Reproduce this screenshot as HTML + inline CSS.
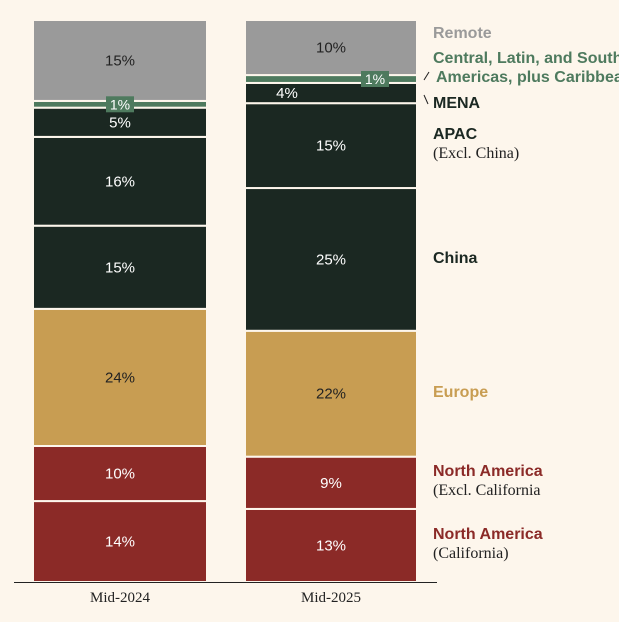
<!DOCTYPE html>
<html><head><meta charset="utf-8"><style>
body{margin:0;background:#fdf6ec;}
svg{display:block;font-family:"Liberation Sans",sans-serif;}
</style></head><body>
<svg id="chart" width="619" height="622"></svg>
<script>
const categories = ["Mid-2024","Mid-2025"];
const segments = ["North America (California)","North America (Excl. California)","Europe","China","APAC (Excl. China)","MENA","Central, Latin, and South Americas","Remote"];
const values2024 = [14.4,9.8,24.4,14.8,15.8,5.2,1.2,14.4];
const values2025 = [13,9.3,22.4,25.4,15.1,3.6,1.4,9.8];
const labels2024 = ["14%","10%","24%","15%","16%","5%","1%","15%"];
const labels2025 = ["13%","9%","22%","25%","15%","4%","1%","10%"];
const colors = ["#8b2a27","#8b2a27","#c89d52","#1b2822","#1b2822","#1b2822","#4e7a5e","#9a9a9a"];
const textColors = ["#fff","#fff","#222","#fff","#fff","#fff","#fff","#222"];
const NS="http://www.w3.org/2000/svg";
const svg=document.getElementById('chart');
const y0=582, pxPer=5.62;
const yScale=v=>v*pxPer;
const barX=[33,245], barW=[174,172];
function mk(t,a,txt){const e=document.createElementNS(NS,t);for(const k in a)e.setAttribute(k,a[k]);if(txt!=null)e.textContent=txt;svg.appendChild(e);return e;}
const pending=[];
[values2024,values2025].forEach((vals,bi)=>{
  const labs=bi?labels2025:labels2024;
  let y=y0;
  vals.forEach((v,i)=>{
    const h=yScale(v);
    const r=mk('rect',{x:barX[bi],y:y-h,width:barW[bi],height:h,fill:colors[i],stroke:'#fdf6ec','stroke-width':2});
    
    
    pending.push([bi,i,y-h/2,labs[i]]);
    y-=h;
  });
});
pending.forEach(([bi,i,cy,lab])=>{
  const cx=barX[bi]+barW[bi]/2;
  if(i===6){
    const lx=bi?375:120;
    const b=mk('rect',{x:lx-14,y:cy-8,width:28,height:16,fill:colors[i]});
    
    
    const t=mk('text',{x:lx,y:cy+5,'text-anchor':'middle','font-size':14,fill:'#fff'},lab);
    
    
  } else {
    const off = i===5 ? (bi? -44:0) : 0;
    const t=mk('text',{x:cx+off,y:cy+5,'text-anchor':'middle','font-size':15,fill:textColors[i]},lab);
    
    
  }
});
const ax=mk('line',{x1:14,x2:437,y1:582.5,y2:582.5,stroke:'#222','stroke-width':1});


categories.forEach((c,i)=>{
  const t=mk('text',{x:barX[i]+barW[i]/2,y:602,'text-anchor':'middle','font-size':15,fill:'#222','font-family':'Liberation Serif, serif'},c);
  
  
});
const legend=[
 ["Remote",null,"#9a9a9a",38],
 ["Central, Latin, and South",null,"#4e7a5e",63],
 ["Americas, plus Caribbean",null,"#4e7a5e",82],
 ["MENA",null,"#1b2822",108],
 ["APAC","(Excl. China)","#1b2822",139],
 ["China",null,"#1b2822",263],
 ["Europe",null,"#c89d52",397],
 ["North America","(Excl. California","#8b2a27",476],
 ["North America","(California)","#8b2a27",539]
];
legend.forEach(([a,b,col,y],i)=>{
  const t=mk('text',{x:i===2?436:433,y:y,'font-size':16,'font-weight':'bold',fill:col},a);
  
  
  if(b){const s=mk('text',{x:433,y:y+19,'font-size':16,fill:'#222','font-family':'Liberation Serif, serif'},b);
    
    }
});
const l1=mk('line',{x1:424,y1:80,x2:429,y2:72,stroke:'#222'});


const l2=mk('line',{x1:424,y1:95,x2:428,y2:104,stroke:'#222'});


</script>
</body></html>
